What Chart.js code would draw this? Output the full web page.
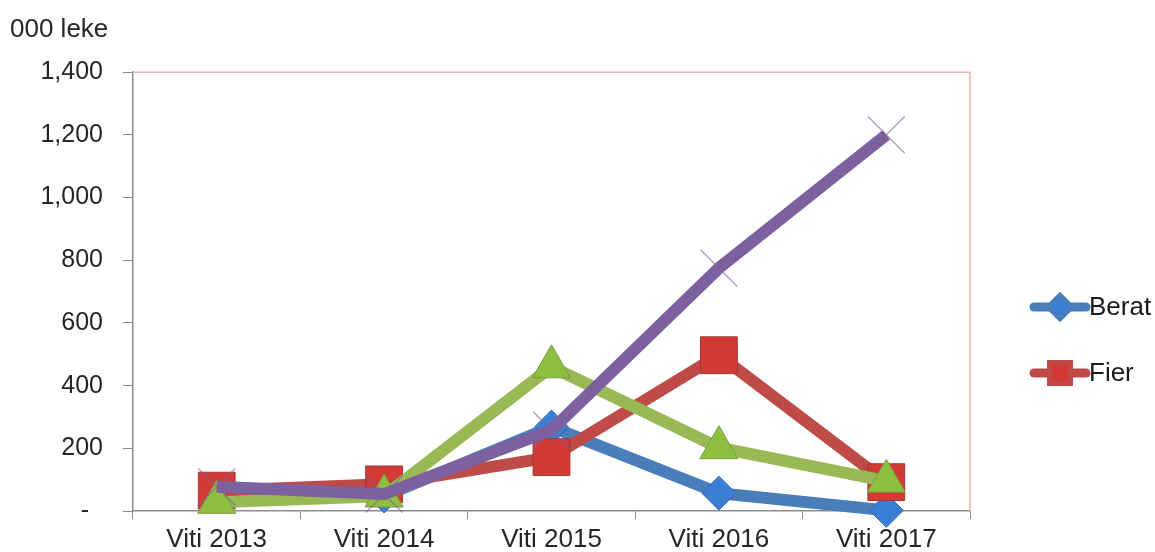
<!DOCTYPE html>
<html>
<head>
<meta charset="utf-8">
<script src="https://cdn.jsdelivr.net/npm/chart.js@4"></script>
<style>
  html, body { margin: 0; padding: 0; background: #fff; }
  #wrap { width: 1155px; height: 552px; }
</style>
</head>
<body>
<div id="wrap"><canvas id="lineChart"></canvas></div>
<script>
    const categories = ['Viti 2013', 'Viti 2014', 'Viti 2015', 'Viti 2016', 'Viti 2017'];
    const beratValues = [65, 48, 268, 57, 2];
    const fierValues = [65, 85, 172, 497, 92];
    const series3Values = [28, 48, 460, 202, 95];
    const series4Values = [77, 54, 258, 775, 1200];
    const yTicks = [0, 200, 400, 600, 800, 1000, 1200, 1400];

    const fontFamily = '"Liberation Sans", Arial, sans-serif';
    const axisGray = '#8c8c8c';

    // pink frame on top / right of the plot area
    const frameLines = {
        id: 'frameLines',
        beforeDatasetsDraw(chart) {
            const a = chart.chartArea;
            const c = chart.ctx;
            c.save();
            c.strokeStyle = '#f0b4b4';
            c.lineWidth = 1.5;
            c.beginPath();
            c.moveTo(a.left, a.top);
            c.lineTo(a.right, a.top);
            c.lineTo(a.right, a.bottom);
            c.stroke();
            c.restore();
        }
    };

    // only the first two series appear in the legend
    const sideLegend = {
        id: 'sideLegend',
        afterDraw(chart) {
            const c = chart.ctx;
            const rows = [{ i: 0, y: 307 }, { i: 1, y: 373 }];
            rows.forEach(row => {
                const ds = chart.data.datasets[row.i];
                c.save();
                c.strokeStyle = ds.borderColor;
                c.lineWidth = 9;
                c.lineCap = 'round';
                c.beginPath();
                c.moveTo(1034, row.y);
                c.lineTo(1086, row.y);
                c.stroke();
                Chart.helpers.drawPoint(c, {
                    pointStyle: ds.pointStyle,
                    radius: ds.pointStyle === 'rect' ? 12 : 9,
                    rotation: 0,
                    borderWidth: 1
                }, 1060, row.y);
                c.fillStyle = ds.pointBackgroundColor;
                c.fill();
                c.fillStyle = '#1a1a1a';
                c.font = '26px ' + fontFamily;
                c.textBaseline = 'middle';
                c.fillText(ds.label, 1089, row.y + 1);
                c.restore();
            });
        }
    };

    const ctx = document.getElementById('lineChart').getContext('2d');
    new Chart(ctx, {
        type: 'line',
        data: {
            labels: categories,
            datasets: [
                {
                    label: 'Berat', data: beratValues, order: 4,
                    borderColor: '#4a7ebb', borderWidth: 12,
                    pointStyle: 'rectRot', pointRadius: 17,
                    pointBackgroundColor: '#3a7fd4', pointBorderColor: '#3568a8', pointBorderWidth: 1
                },
                {
                    label: 'Fier', data: fierValues, order: 3,
                    borderColor: '#be4b48', borderWidth: 12,
                    pointStyle: 'rect', pointRadius: 26,
                    pointBackgroundColor: '#d33a36', pointBorderColor: '#a33532', pointBorderWidth: 1
                },
                {
                    label: 'Seria 3', data: series3Values, order: 2,
                    borderColor: '#98b954', borderWidth: 12,
                    pointStyle: 'triangle', pointRadius: 22,
                    pointBackgroundColor: '#8fbf3f', pointBorderColor: '#7a9c3e', pointBorderWidth: 1
                },
                {
                    label: 'Seria 4', data: series4Values, order: 1,
                    borderColor: '#7d60a0', borderWidth: 12,
                    pointStyle: 'crossRot', pointRadius: 26,
                    pointBorderColor: 'rgba(125, 96, 160, 0.6)', pointBorderWidth: 1.5
                }
            ]
        },
        options: {
            responsive: true,
            maintainAspectRatio: false,
            animation: false,
            datasets: { line: { clip: false } },
            layout: {
                padding: { left: 10, right: 185, top: 0, bottom: -8 }
            },
            scales: {
                x: {
                    offset: true,
                    grid: { offset: true, drawOnChartArea: false, tickLength: 8, color: axisGray },
                    border: { color: axisGray, width: 1.5 },
                    ticks: {
                        padding: 7.5,
                        color: '#262626',
                        font: { family: fontFamily, size: 26, lineHeight: 1.0 }
                    }
                },
                y: {
                    min: 0,
                    max: 1400,
                    afterFit(scale) { scale.width = 123; },
                    afterBuildTicks(scale) { scale.ticks = yTicks.map(v => ({ value: v })); },
                    grid: { drawOnChartArea: false, tickLength: 10, color: axisGray },
                    border: { color: axisGray, width: 1.5 },
                    ticks: {
                        padding: 20,
                        color: '#262626',
                        font: { family: fontFamily, size: 25 },
                        callback: function(value) {
                            return value === 0 ? '-  ' : value.toLocaleString('en-US');
                        }
                    }
                }
            },
            plugins: {
                legend: { display: false },
                tooltip: { enabled: false },
                title: {
                    display: true,
                    text: '000 leke',
                    align: 'start',
                    color: '#262626',
                    font: { family: fontFamily, size: 26, weight: 'normal' },
                    padding: { top: 14, bottom: 27 }
                }
            }
        },
        plugins: [frameLines, sideLegend]
    });
</script>
</body>
</html>
